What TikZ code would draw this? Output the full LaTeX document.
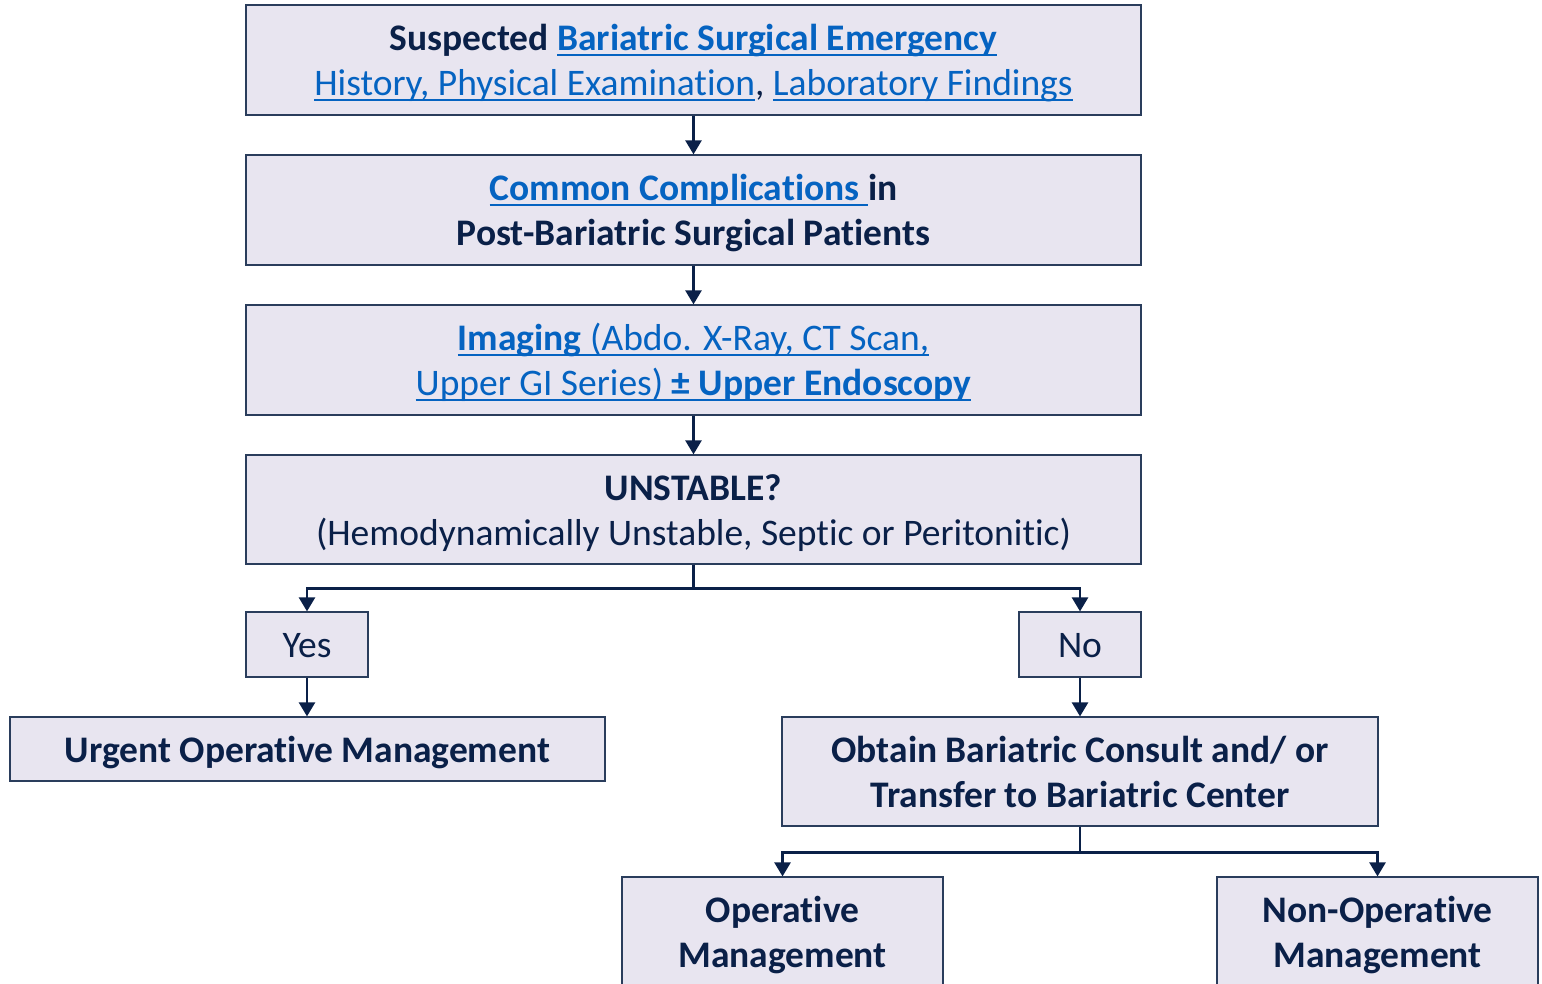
\documentclass[tikz,border=0pt]{standalone}
\usepackage{fontspec}
\setmainfont{Carlito}[Ligatures={NoCommon}]
\usetikzlibrary{arrows.meta}
\definecolor{boxfill}{HTML}{E8E5F0}
\definecolor{navy}{HTML}{0A2048}
\definecolor{link}{HTML}{0563C1}
\definecolor{edge}{HTML}{2A3D5C}
\newcommand\lnk[1]{\textcolor{link}{#1}}
\newcommand\myul[1]{\setbox0\hbox{#1}\rlap{\rule[-5.5pt]{\wd0}{1.8pt}}\box0}
\newcommand\sr{\rule[-9pt]{0pt}{44pt}}
\tikzset{
  box/.style={draw=edge, line width=1.2pt, fill=boxfill, inner sep=0pt, align=center,
    font=\fontsize{37.5}{45}\selectfont, text=navy},
  arr/.style={-{Triangle[length=14pt,width=16pt]}, line width=2.5pt, draw=navy},
}
\begin{document}
\begin{tikzpicture}[x=1pt,y=-1pt]
\useasboundingbox (0,0) rectangle (1542,983);
\clip (0,0) rectangle (1542,983);
\node[box, minimum width=895pt, minimum height=110pt] (b1) at (693.5,60)
  {\sr\textbf{Suspected \lnk{\myul{Bariatric Surgical Emergency}}}\\
   \sr\lnk{\myul{History, Physical Examination}}, \lnk{\myul{Laboratory Findings}}};
\node[box, minimum width=895pt, minimum height=110pt] (b2) at (693.5,210)
  {\sr\textbf{\lnk{\myul{Common Complications\ }}in}\\
   \sr\textbf{Post-Bariatric Surgical Patients}};
\node[box, minimum width=895pt, minimum height=110pt] (b3) at (693.5,360)
  {\sr\lnk{\myul{\textbf{Imaging} (Abdo. X-Ray, CT Scan,}}\\
   \sr\lnk{\myul{Upper GI Series) \textbf{± Upper Endoscopy}}}};
\node[box, minimum width=895pt, minimum height=109pt] (b4) at (693.5,509.5)
  {\sr\textbf{UNSTABLE?}\\\sr(Hemodynamically Unstable, Septic or Peritonitic)};
\node[box, minimum width=122pt, minimum height=65pt] (yes) at (307,644.5) {\sr Yes};
\node[box, minimum width=122pt, minimum height=65pt] (no) at (1080,644.5) {\sr No};
\node[box, minimum width=595pt, minimum height=64pt] (urg) at (307.5,749)
  {\sr\textbf{Urgent Operative Management}};
\node[box, minimum width=596pt, minimum height=109pt] (obt) at (1080,771.5)
  {\sr\textbf{Obtain Bariatric Consult and/ or}\\\sr\textbf{Transfer to Bariatric Center}};
\node[box, minimum width=321pt, minimum height=110pt] (op) at (782.5,932)
  {\sr\textbf{Operative}\\\sr\textbf{Management}};
\node[box, minimum width=321pt, minimum height=110pt] (nop) at (1377.5,932)
  {\sr\textbf{Non-Operative}\\\sr\textbf{Management}};
\draw[arr] (b1) -- (b2);
\draw[arr] (b2) -- (b3);
\draw[arr] (b3) -- (b4);
\draw[arr] (b4.south) -- ++(0,24) -| (yes.north);
\draw[arr] (b4.south) -- ++(0,24) -| (no.north);
\draw[arr] (yes) -- (yes |- urg.north);
\draw[arr] (no) -- (obt);
\draw[arr] (obt.south) -- ++(0,26) -| (op.north);
\draw[arr] (obt.south) -- ++(0,26) -| (nop.north);
\end{tikzpicture}
\end{document}
